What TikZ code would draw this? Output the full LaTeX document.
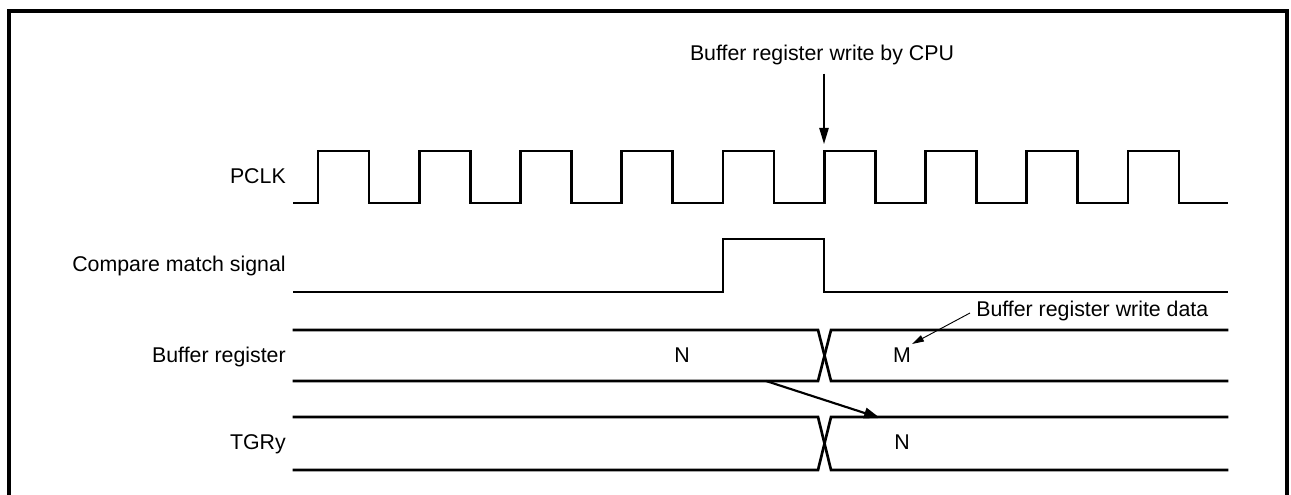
\documentclass[tikz,border=0pt]{standalone}
\usepackage{fontspec}
\setmainfont{Liberation Sans}
\usetikzlibrary{arrows.meta}
\begin{document}
\begin{tikzpicture}[x=0.75pt,y=-0.75pt,
  sig/.style={line width=2pt, line join=miter, line cap=rect},
  frm/.style={line width=2.8pt},
  lbl/.style={font=\fontsize{16}{19}\selectfont, inner sep=0pt},
  cpuarrow/.style={line width=1pt, -{Triangle[length=12pt,width=7pt]}},
  thinarrow/.style={line width=0.7pt, -{Triangle[length=9pt,width=5pt]}},
  thickarrow/.style={line width=1.6pt, -{Triangle[length=12pt,width=8pt]}}]
\useasboundingbox (0,0) rectangle (1291,495);
% frame
\draw[frm] (9,497) -- (9,11) -- (1287,11) -- (1287,497);
% labels
\node[lbl, anchor=base east] (lpclk) at (286,184) {PCLK};
\node[lbl, anchor=base east] (lcmp) at (286,272) {Compare match signal};
\node[lbl, anchor=base east] (lbuf) at (286,362) {Buffer register};
\node[lbl, anchor=base east] (ltgr) at (286,449) {TGRy};
% PCLK
\draw[sig] (294,203) foreach \k in {0,...,8} { -- ({318+101.25*\k},203) -- ++(0,-52) -- ++(51,0) -- ++(0,52) } -- (1227,203);
% compare match
\draw[sig] (294,292) -- (723,292) -- (723,239) -- (824,239) -- (824,292) -- (1227,292);
% buffer register
\draw[sig] (294,330) -- (818,330) -- (831,381) -- (1227,381);
\draw[sig] (294,381) -- (818,381) -- (831,330) -- (1227,330);
% TGRy
\draw[sig] (294,417) -- (818,417) -- (831,470) -- (1227,470);
\draw[sig] (294,470) -- (818,470) -- (831,417) -- (1227,417);
% values
\node[lbl, anchor=base] (vn1) at (682,362) {N};
\node[lbl, anchor=base] (vm) at (902,362) {M};
\node[lbl, anchor=base] (vn2) at (902,449) {N};
% annotations
\node[lbl, anchor=base] (cpu) at (822,61) {Buffer register write by CPU};
\coordinate (cpuend) at (824,144);
\draw[cpuarrow] (cpu.south -| cpuend) ++(0,8) -- (cpuend);
\node[lbl, anchor=base west] (wdata) at (976,316) {Buffer register write data};
\coordinate (wstart) at (970,313);
\coordinate (wend) at (912,344);
\draw[thinarrow] (wstart) -- (wend);
\coordinate (tstart) at (766,381);
\coordinate (tend) at (880,418);
\draw[thickarrow] (tstart) -- (tend);
\end{tikzpicture}
\end{document}
